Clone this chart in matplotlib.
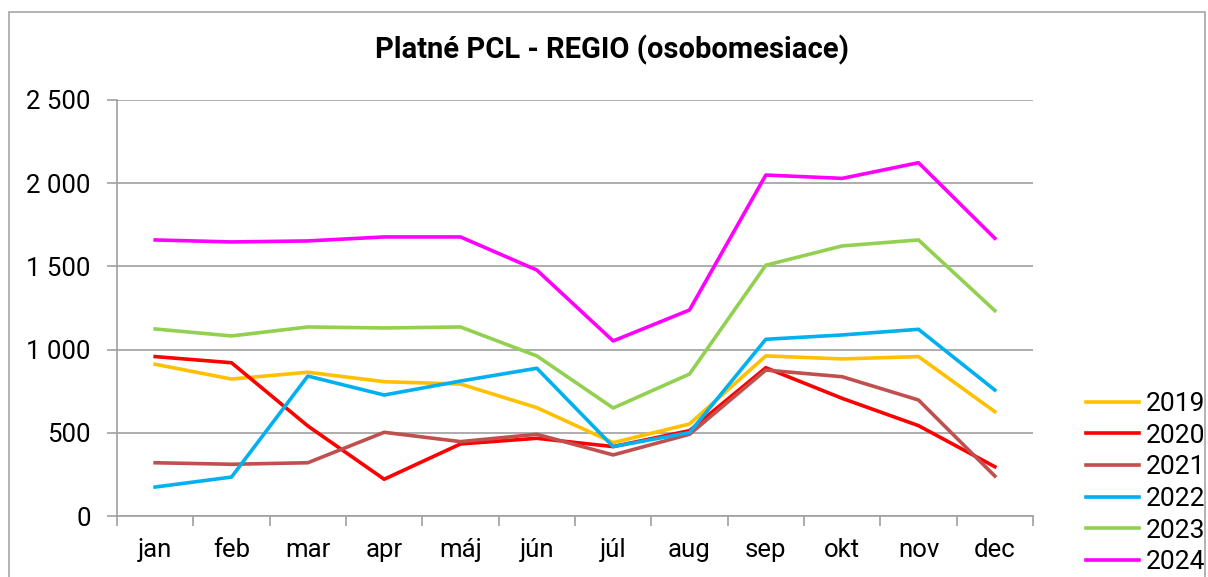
import matplotlib
matplotlib.use("Agg")
import matplotlib.pyplot as plt
from matplotlib.patches import Rectangle
from matplotlib.ticker import FuncFormatter, FixedLocator

plt.rcParams['font.family'] = ['Roboto', 'DejaVu Sans']

# ---------------------------------
# DATA
# ---------------------------------
months = ["jan", "feb", "mar", "apr", "máj", "jún", "júl", "aug", "sep", "okt", "nov", "dec"]
years = ["2019", "2020", "2021", "2022", "2023", "2024"]
colors = ["#FFC000", "#FF0000", "#C0504D", "#00B0F0", "#92D050", "#FF00FF"]

v2019 = [912, 823, 864, 807, 793, 651, 441, 553, 962, 944, 958, 627]
v2020 = [958, 921, 541, 221, 433, 467, 417, 513, 891, 707, 543, 296]
v2021 = [320, 311, 320, 503, 447, 491, 367, 491, 877, 837, 697, 240]
v2022 = [174, 234, 841, 727, 811, 888, 417, 501, 1062, 1088, 1122, 757]
v2023 = [1124, 1082, 1136, 1130, 1136, 962, 649, 853, 1507, 1623, 1659, 1234]
v2024 = [1659, 1647, 1653, 1677, 1677, 1478, 1052, 1238, 2049, 2029, 2123, 1669]
series = [v2019, v2020, v2021, v2022, v2023, v2024]

# ---------------------------------
# FIGURE
# ---------------------------------
W, H = 1208, 577
fig = plt.figure(figsize=(W / 100, H / 100), dpi=100)
ax = fig.add_axes([117 / W, 1 - 516 / H, (1033 - 117) / W, (516 - 100) / H])

x = list(range(len(months)))
for name, vals, col in zip(years, series, colors):
    ax.plot(x, vals, color=col, lw=2.6, label=name)

grid_col = "#a0a0a0"
ax.set_xlim(-0.5, 11.5)
ax.set_ylim(0, 2500)
ax.set_yticks(range(0, 2501, 500))
ax.yaxis.set_major_formatter(FuncFormatter(lambda v, p: f"{int(v):,}".replace(",", " ")))
ax.yaxis.grid(True, color=grid_col, lw=1.2)
ax.set_axisbelow(True)

ax.set_xticks(x)
ax.set_xticklabels(months)
ax.xaxis.set_minor_locator(FixedLocator([i - 0.5 for i in range(13)]))
ax.tick_params(axis="x", which="major", length=0, pad=16, labelsize=18.5)
ax.tick_params(axis="x", which="minor", length=7, color=grid_col, width=1.2)
ax.tick_params(axis="y", length=7, color=grid_col, width=1.2, pad=12, labelsize=18.5)

for s in ["top", "right"]:
    ax.spines[s].set_visible(False)
for s in ["left", "bottom"]:
    ax.spines[s].set_color(grid_col)
    ax.spines[s].set_linewidth(1.2)

fig.text(612 / W, 1 - 50 / H, "Platné PCL - REGIO (osobomesiace)",
         ha="center", va="center", fontsize=21, fontweight="bold")

fig.legend(loc="upper left", bbox_to_anchor=(1086 / W, 1 - 392 / H), frameon=False,
           fontsize=19, handlelength=2.0, handletextpad=0.27, labelspacing=0.29,
           borderaxespad=0, borderpad=0)

# outer chart border (cut at the bottom like the reference)
fig.patches.append(Rectangle((9 / W, -0.1), (1205 - 9) / W, 1 - 12 / H + 0.1,
                             transform=fig.transFigure, fill=False,
                             edgecolor="#a6a6a6", lw=1.2))

fig.savefig("out.png", dpi=100)
